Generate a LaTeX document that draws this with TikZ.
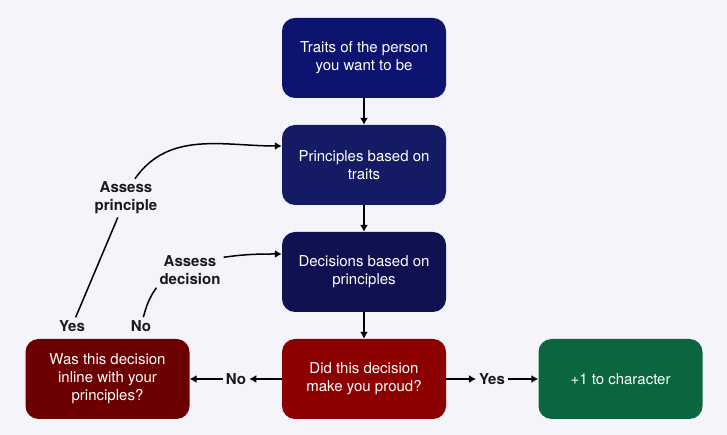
\documentclass[tikz,border=0pt]{standalone}
\usepackage{fontspec}
\setmainfont{TeX Gyre Heros}
\usetikzlibrary{arrows.meta}
\definecolor{bgcol}{RGB}{244,244,250}
\definecolor{navyA}{RGB}{12,20,112}
\definecolor{navyB}{RGB}{20,26,99}
\definecolor{navyC}{RGB}{15,17,80}
\definecolor{redA}{RGB}{140,0,0}
\definecolor{redB}{RGB}{108,0,0}
\definecolor{greenA}{RGB}{11,102,64}
\begin{document}
\begin{tikzpicture}[x=1pt,y=1pt,>={Latex[length=7pt,width=8pt]},
  box/.style={rounded corners=13pt,minimum width=164pt,minimum height=80pt,text=white,align=center,font=\fontsize{15}{18}\selectfont},
  lbl/.style={text=black!90,align=center,inner sep=3pt,font=\bfseries\fontsize{15}{18}\selectfont},
  conn/.style={->,line width=1.5pt}]
  \fill[bgcol] (0,0) rectangle (727,435);
  % main column
  \node[box,fill=navyA] (traits) at (364,377) {Traits of the person\\you want to be};
  \node[box,fill=navyB] (princ) at (364,270) {Principles based on\\traits};
  \node[box,fill=navyC] (decis) at (364,163) {Decisions based on\\principles};
  \node[box,fill=redA] (did) at (364,56) {Did this decision\\make you proud?};
  \node[box,fill=redB] (was) at (107.5,56) {Was this decision\\inline with your\\principles?};
  \node[box,fill=greenA] (plus) at (620.5,56) {+1 to character};
  % labels
  \node[lbl] (noB) at (236,56) {No};
  \node[lbl] (yesB) at (492,56) {Yes};
  \node[lbl] (yes) at (72,109) {Yes};
  \node[lbl] (no) at (141,109) {No};
  \node[lbl] (assessP) at (126,237) {Assess\\principle};
  \node[lbl] (assessD) at (190,165) {Assess\\decision};
  % connectors
  \draw[conn] (traits) -- (princ);
  \draw[conn] (princ) -- (decis);
  \draw[conn] (decis) -- (did);
  \draw[conn] (did) -- (noB); \draw[conn] (noB) -- (was);
  \draw[conn] (did) -- (yesB); \draw[conn] (yesB) -- (plus);
  \draw[line width=1.5pt] (yes) -- (assessP);
  \draw[conn] (assessP.65) to[out=55,in=180] ([yshift=19pt]princ.west);
  \draw[line width=1.5pt] (no) to[out=75,in=235] (assessD.south west);
  \draw[conn] ([yshift=-5pt]assessD.north east) to[out=8,in=180] ([yshift=18pt]decis.west);
\end{tikzpicture}
\end{document}
